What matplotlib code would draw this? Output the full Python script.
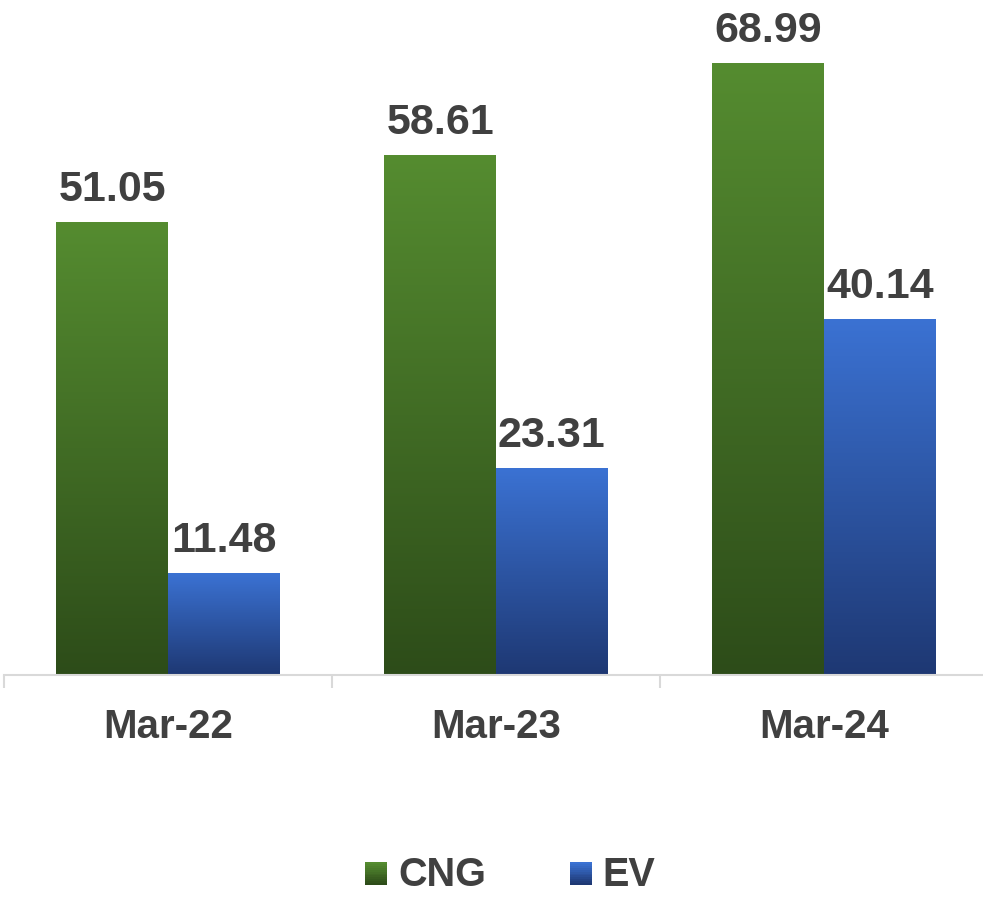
import numpy as np
import matplotlib.pyplot as plt
from matplotlib.colors import LinearSegmentedColormap
from matplotlib.patches import Rectangle
from matplotlib.legend_handler import HandlerBase

plt.rcParams['font.family'] = ['Liberation Sans', 'DejaVu Sans']

categories = ['Mar-22', 'Mar-23', 'Mar-24']
cng = [51.05, 58.61, 68.99]
ev = [11.48, 23.31, 40.14]
series_names = ['CNG', 'EV']

green_top, green_bottom = '#558C30', '#2D4C19'
blue_top, blue_bottom = '#3B72D3', '#1E3873'
text_color = '#404040'

green_cmap = LinearSegmentedColormap.from_list('g', [green_bottom, green_top])
blue_cmap = LinearSegmentedColormap.from_list('b', [blue_bottom, blue_top])

fig = plt.figure(figsize=(9.83, 8.97), dpi=100)
ax = fig.add_axes([4 / 983, 222 / 897, 984 / 983, 675 / 897])

x = np.arange(len(categories))
width = 0.34
grad = np.linspace(1, 0, 256).reshape(-1, 1)


def gradient_bars(xs, vals, cmap):
    bars = ax.bar(xs, vals, width, color='none', edgecolor='none')
    for bar in bars:
        x0, y0 = bar.get_x(), bar.get_y()
        img = ax.imshow(grad, cmap=cmap, aspect='auto', vmin=0, vmax=1,
                        extent=[x0, x0 + bar.get_width(), y0, y0 + bar.get_height()],
                        zorder=2)
        img.set_clip_path(bar)
    return bars


gradient_bars(x - width / 2, cng, green_cmap)
gradient_bars(x + width / 2, ev, blue_cmap)

for xs, vals in [(x - width / 2, cng), (x + width / 2, ev)]:
    for xi, v in zip(xs, vals):
        ax.annotate(f'{v:.2f}', (xi, v), xytext=(0, 8.5), textcoords='offset points',
                    ha='center', va='bottom', fontsize=31, fontweight='bold',
                    color=text_color)

ax.set_xlim(-0.5, 2.5)
ax.set_ylim(0, 76.1)

for side in ['top', 'right', 'left']:
    ax.spines[side].set_visible(False)
ax.spines['bottom'].set_color('#D9D9D9')
ax.spines['bottom'].set_linewidth(1.5)
ax.set_yticks([])

ax.set_xticks(x)
ax.set_xticklabels(categories, fontsize=29, fontweight='bold', color=text_color)
ax.tick_params(axis='x', which='major', length=0, pad=24)
ax.set_xticks([-0.5, 0.5, 1.5, 2.5], minor=True)
ax.tick_params(axis='x', which='minor', length=9, width=1.5, color='#D9D9D9')


class GradientHandler(HandlerBase):
    def __init__(self, cmap):
        super().__init__()
        self.cmap = cmap

    def create_artists(self, legend, orig_handle, xdescent, ydescent,
                       width, height, fontsize, trans):
        size = 16
        x0 = width - size
        y0 = -ydescent + (height - size) / 2 - 1
        n = 12
        artists = []
        for i in range(n):
            r = Rectangle((x0, y0 + size * i / n), size, size / n + 0.2,
                          facecolor=self.cmap(i / (n - 1)), edgecolor='none',
                          transform=trans)
            artists.append(r)
        return artists


h1 = Rectangle((0, 0), 1, 1)
h2 = Rectangle((0, 0), 1, 1)
fig.legend([h1, h2], series_names, loc='center', bbox_to_anchor=(509 / 983, 1 - 875 / 897),
           ncol=2, frameon=False, prop={'weight': 'bold', 'size': 28.5},
           labelcolor=text_color, handlelength=0.62, handletextpad=0.27, columnspacing=2.05,
           borderpad=0.2,
           handler_map={h1: GradientHandler(green_cmap), h2: GradientHandler(blue_cmap)})

fig.savefig('out.png', dpi=100)
